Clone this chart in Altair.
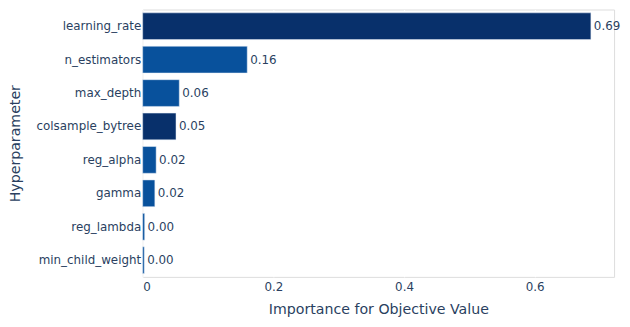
import altair as alt
import pandas as pd

params = ["learning_rate", "n_estimators", "max_depth", "colsample_bytree",
          "reg_alpha", "gamma", "reg_lambda", "min_child_weight"]
importance = [0.686, 0.160, 0.056, 0.051, 0.0206, 0.0186, 0.003, 0.0024]
colors = ["#08306b", "#08519c", "#08519c", "#08306b",
          "#08519c", "#08519c", "#08519c", "#08519c"]
x_ticks = [0, 0.2, 0.4, 0.6]

df = pd.DataFrame({"param": params, "importance": importance, "color": colors})

FONT = "DejaVu Sans"
TXT = "#2a3f5f"

x = alt.X("importance:Q",
          scale=alt.Scale(domain=[0, 0.7215], nice=False, zero=True),
          axis=alt.Axis(values=x_ticks, format="~g", title="Importance for Objective Value",
                        grid=True, gridColor="white", gridWidth=1, ticks=False, domain=False,
                        labelFont=FONT, labelFontSize=12, labelColor=TXT, labelPadding=5,
                        titleFont=FONT, titleFontSize=14.3, titleColor=TXT, titleFontWeight="normal",
                        titleBaseline="alphabetic", titleY=37))
y = alt.Y("param:N", sort=params,
          scale=alt.Scale(paddingInner=0.2, paddingOuter=0.1),
          axis=alt.Axis(title="Hyperparameter", ticks=False, domain=False, grid=False,
                        labelFont=FONT, labelFontSize=12, labelColor=TXT, labelPadding=2,
                        titleFont=FONT, titleFontSize=14.3, titleColor=TXT, titleFontWeight="normal",
                        titleAngle=-90, titleAlign="center", titleBaseline="alphabetic",
                        titleX=-124, titleY=135))

bars = alt.Chart(df).mark_bar(stroke="#E5ECF6", strokeWidth=0.5).encode(
    x=x, y=y, color=alt.Color("color:N", scale=None))

labels = alt.Chart(df).mark_text(align="left", baseline="middle", dx=3,
                                 font=FONT, fontSize=12, color=TXT).encode(
    x="importance:Q", y=alt.Y("param:N", sort=params),
    text=alt.Text("importance:Q", format=".2f"))

chart = (bars + labels).properties(
    width=476, height=270,
    autosize=alt.AutoSizeParams(type="none"),
    padding={"left": 136, "top": 0, "right": 8, "bottom": 41},
).configure_view(fill="#E5ECF6", stroke=None).configure(background="white")

chart.save("out.html", embed_options={"renderer": "svg", "actions": False})
